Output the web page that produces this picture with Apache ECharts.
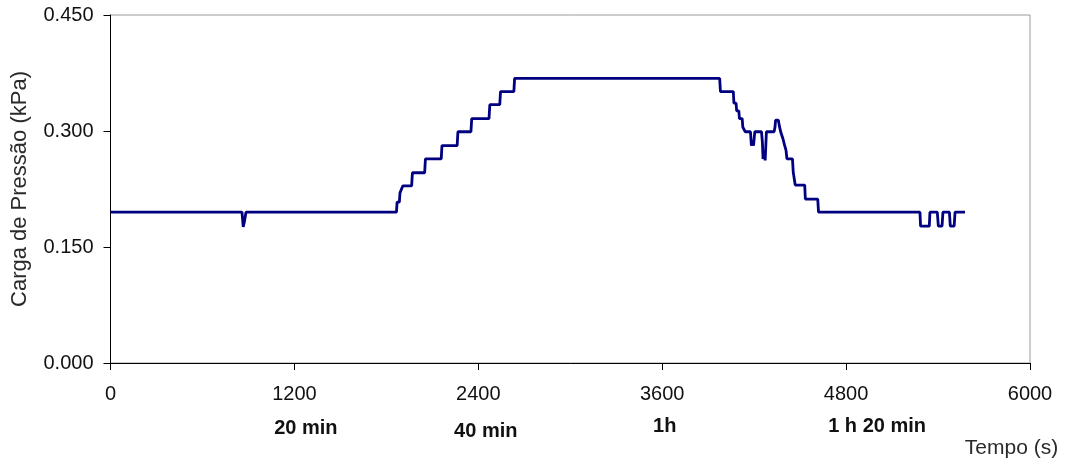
<!DOCTYPE html>
<html>
<head>
<meta charset="utf-8">
<title>Carga de Pressão</title>
<script src="https://cdn.jsdelivr.net/npm/echarts@6/dist/echarts.min.js"></script>
<style>
  html, body { margin: 0; padding: 0; background: #fff; }
  #chart { width: 1069px; height: 462px; }
</style>
</head>
<body>
<div id="chart"></div>
<script>
// Time (s) of each recorded point
const tempo = [
  0, 858, 862, 866, 874, 884,
  1866, 1870, 1885, 1889, 1902, 1907, 1965, 1970, 2050, 2055, 2158, 2163,
  2262, 2267, 2352, 2357, 2470, 2475, 2540, 2545, 2632, 2637,
  3975, 3980, 4064, 4068, 4082, 4086, 4100, 4104, 4122, 4126, 4138, 4142,
  4176, 4182, 4190, 4196, 4204,
  4248, 4254, 4258, 4266, 4272, 4280,
  4330, 4336, 4340, 4358, 4366, 4376, 4388, 4398, 4408, 4414, 4450, 4455, 4465, 4468,
  4530, 4534, 4615, 4620,
  5282, 5286, 5343, 5347, 5395, 5402, 5426, 5432, 5474, 5480, 5505, 5511, 5576
];
// Pressure head (kPa) at each of those times
const carga = [
  0.195, 0.195, 0.195, 0.176, 0.183, 0.195,
  0.195, 0.208, 0.208, 0.220, 0.220, 0.229, 0.229, 0.246, 0.246, 0.264, 0.264, 0.281,
  0.281, 0.299, 0.299, 0.316, 0.316, 0.334, 0.334, 0.351, 0.351, 0.368,
  0.368, 0.351, 0.351, 0.336, 0.336, 0.326, 0.326, 0.316, 0.316, 0.305, 0.305, 0.299,
  0.299, 0.281, 0.288, 0.281, 0.299,
  0.299, 0.285, 0.264, 0.270, 0.262, 0.299,
  0.299, 0.305, 0.314, 0.314, 0.305, 0.297, 0.290, 0.282, 0.275, 0.264, 0.264, 0.247, 0.247, 0.230,
  0.230, 0.212, 0.212, 0.195,
  0.195, 0.177, 0.177, 0.195, 0.195, 0.177, 0.177, 0.195, 0.195, 0.177, 0.177, 0.195, 0.195
];

// Axis ticks
const ticksTempo = [0, 1200, 2400, 3600, 4800, 6000];
const ticksCarga = [0, 0.15, 0.30, 0.45];

// Clock-time marks written under the time axis
const marcosTempo = [1200, 2400, 3600, 4800];
const marcosTexto = ['20 min', '40 min', '1h', '1 h 20 min'];

const FONT = "'Liberation Sans', Arial, sans-serif";
const chart = echarts.init(document.getElementById('chart'), null, { renderer: 'canvas' });

const pontos = tempo.map((t, i) => [t, carga[i]]);

chart.setOption({
  animation: false,
  grid: {
    left: 110.5, right: 39, top: 15, bottom: 99,
    show: true, borderColor: '#9a9a9a', borderWidth: 1, backgroundColor: 'transparent'
  },
  xAxis: {
    type: 'value',
    min: ticksTempo[0], max: ticksTempo[ticksTempo.length - 1],
    interval: ticksTempo[1] - ticksTempo[0],
    axisLine: { show: true, lineStyle: { color: '#000', width: 1 } },
    axisTick: { show: true, inside: false, length: 7, lineStyle: { color: '#000' } },
    splitLine: { show: false },
    axisLabel: {
      fontFamily: FONT, fontSize: 20, color: '#111', margin: 21,
      formatter: v => String(v)
    }
  },
  yAxis: {
    type: 'value',
    min: ticksCarga[0], max: ticksCarga[ticksCarga.length - 1],
    interval: ticksCarga[1] - ticksCarga[0],
    name: 'Carga de Pressão (kPa)',
    nameLocation: 'middle',
    nameRotate: 90,
    nameGap: 80,
    nameTextStyle: { fontFamily: FONT, fontSize: 22, color: '#2a2a2a' },
    axisLine: { show: true, lineStyle: { color: '#000', width: 1 } },
    axisTick: { show: true, inside: false, length: 7, lineStyle: { color: '#000' } },
    splitLine: { show: false },
    axisLabel: {
      fontFamily: FONT, fontSize: 20, color: '#111', margin: 17,
      formatter: v => v.toFixed(3)
    }
  },
  series: [{
    type: 'line',
    data: pontos,
    showSymbol: false,
    lineStyle: { color: '#000080', width: 2.8 },
    itemStyle: { color: '#000080' }
  }]
});

// Place the clock-time labels under their tick values
const desloc = [[11.5, 428], [7.5, 431.5], [2.5, 426], [31, 426]];
const graficos = marcosTempo.map((t, i) => {
  const px = chart.convertToPixel({ gridIndex: 0 }, [t, 0])[0];
  return {
    type: 'text',
    x: px + desloc[i][0], y: desloc[i][1],
    style: {
      text: marcosTexto[i], fontFamily: FONT, fontSize: 20, fontWeight: 'bold',
      fill: '#111', align: 'center', verticalAlign: 'middle'
    }
  };
});
graficos.push({
  type: 'text', x: 1011.5, y: 448,
  style: {
    text: 'Tempo (s)', fontFamily: FONT, fontSize: 21, fill: '#2a2a2a',
    align: 'center', verticalAlign: 'middle'
  }
});
chart.setOption({ graphic: graficos });
</script>
</body>
</html>
